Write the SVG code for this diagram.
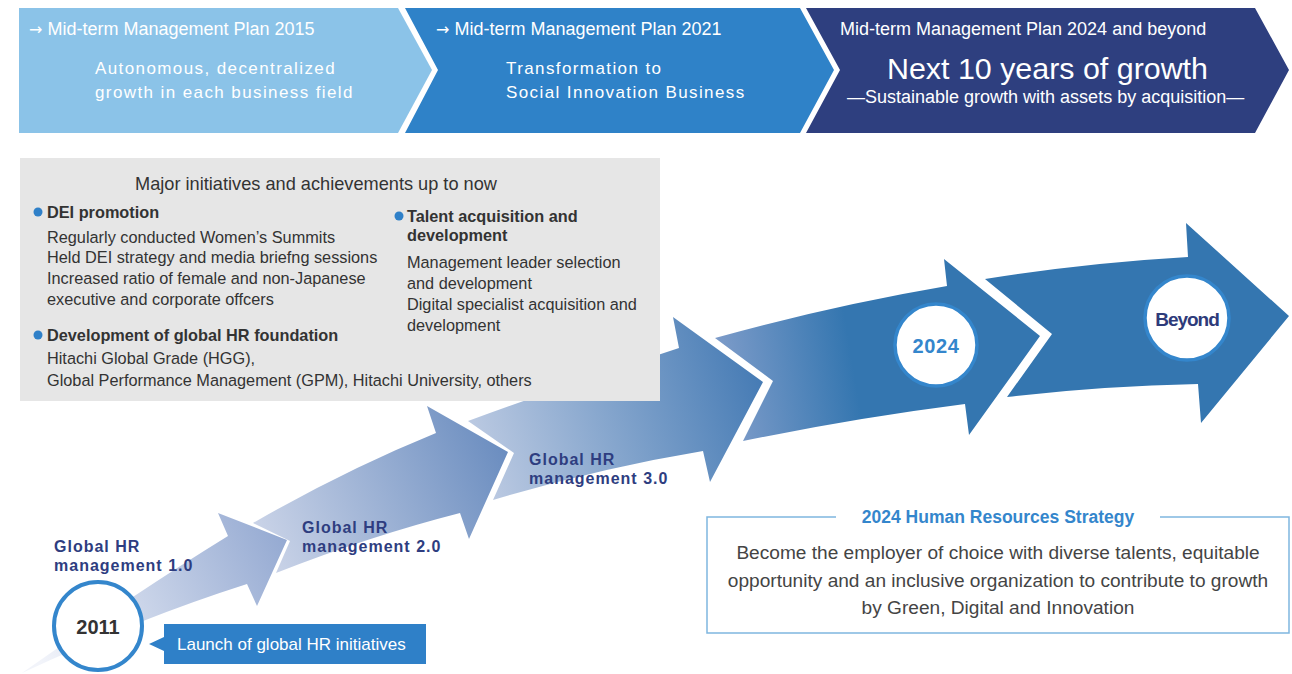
<svg xmlns="http://www.w3.org/2000/svg" width="1292" height="674" viewBox="0 0 1292 674">
<defs>
<style>
text{font-family:"Liberation Sans",Arial,Helvetica,sans-serif}
.w{fill:#ffffff}
.hd{font-size:18px}
.ar{font-family:"DejaVu Sans",sans-serif;font-size:16px}
.sub{font-size:17px;letter-spacing:1.4px}
.body{font-size:16.3px;fill:#333333}
.bh{font-size:16.3px;font-weight:bold;fill:#333333}
.lab{font-size:16px;font-weight:bold;fill:#2e3d80;letter-spacing:1px}
.bul{fill:#2f80c8}
.ring{fill:#ffffff;stroke:#3486cc}
.st{font-size:19.1px;fill:#444444}
</style>
<linearGradient id="g1" gradientUnits="userSpaceOnUse" x1="40" y1="660" x2="285" y2="540">
<stop offset="0" stop-color="#f2f4fa"/><stop offset="1" stop-color="#95aad2"/>
</linearGradient>
<linearGradient id="g2" gradientUnits="userSpaceOnUse" x1="265" y1="560" x2="505" y2="455">
<stop offset="0" stop-color="#cbd4e8"/><stop offset="1" stop-color="#6c8ec0"/>
</linearGradient>
<linearGradient id="g3" gradientUnits="userSpaceOnUse" x1="480" y1="470" x2="760" y2="385">
<stop offset="0" stop-color="#bccae2"/><stop offset="1" stop-color="#477cb5"/>
</linearGradient>
<linearGradient id="g4" gradientUnits="userSpaceOnUse" x1="720" y1="400" x2="900" y2="370">
<stop offset="0" stop-color="#809dca"/><stop offset="0.75" stop-color="#3476b0"/><stop offset="1" stop-color="#3476b0"/>
</linearGradient>
</defs>

<g id="plan-2015">
<path d="M19,8 L398,8 L432,70 L398,133 L19,133 Z" fill="#8bc3e8"/>
<text class="w hd" x="29" y="35"><tspan class="ar">→</tspan> Mid-term Management Plan 2015</text>
<text class="w sub" x="95" y="74">Autonomous, decentralized</text>
<text class="w sub" x="95" y="98">growth in each business field</text>
</g>
<g id="plan-2021">
<path d="M405,8 L800,8 L834,70 L800,133 L405,133 L438,70 Z" fill="#2f82c8"/>
<text class="w hd" x="436" y="35"><tspan class="ar">→</tspan> Mid-term Management Plan 2021</text>
<text class="w sub" x="506" y="74">Transformation to</text>
<text class="w sub" x="506" y="98">Social Innovation Business</text>
</g>
<g id="plan-2024">
<path d="M806,8 L1255,8 L1289,70 L1255,133 L806,133 L840,70 Z" fill="#2e3f7f"/>
<text class="w hd" x="840" y="35">Mid-term Management Plan 2024 and beyond</text>
<text class="w" x="887" y="79" font-size="30.4">Next 10 years of growth</text>
<text class="w hd" x="847" y="103">—Sustainable growth with assets by acquisition—</text>
</g>

<g id="connectors">
<path id="arrow-1" d="M22,673 Q137,592 228,536 L218,513 L287,540 L257,606 L247,584 Q140,618 22,673 Z" fill="url(#g1)"/>
<path id="arrow-2" d="M253,523 Q345,470 436,433 L427,406 L508,452 L469,539 L460,513 Q370,536 276,573 L290,541 Z" fill="url(#g2)"/>
<path id="arrow-3" d="M468,421 Q575,382 679,348 L673,317 L763,382 L710,482 L703,451 Q600,468 493,500 L514,453 Z" fill="url(#g3)"/>
<path id="arrow-4" d="M715,338 Q830,306 947,286 L944,259 L1040,336 L969,435 L965,404 Q855,418 743,441 L773,381 Z" fill="url(#g4)"/>
<path id="arrow-5" d="M985,279 Q1085,263 1188,257 L1186,223 L1289,316 L1201,423 L1198,384 Q1100,386 1007,397 L1052,334 Z" fill="#3476b0"/>
</g>

<g id="achievements">
<rect x="20" y="158" width="640" height="243" fill="#e6e6e6"/>
<text x="316" y="190" text-anchor="middle" font-size="18.2" fill="#333333">Major initiatives and achievements up to now</text>
<circle class="bul" cx="38" cy="212" r="4.5"/>
<text class="bh" x="47" y="218">DEI promotion</text>
<text class="body" x="47" y="243">Regularly conducted Women’s Summits</text>
<text class="body" x="47" y="263">Held DEI strategy and media briefng sessions</text>
<text class="body" x="47" y="284">Increased ratio of female and non-Japanese</text>
<text class="body" x="47" y="305">executive and corporate offcers</text>
<circle class="bul" cx="38" cy="335" r="4.5"/>
<text class="bh" x="47" y="341">Development of global HR foundation</text>
<text class="body" x="47" y="364">Hitachi Global Grade (HGG),</text>
<text class="body" x="47" y="386">Global Performance Management (GPM), Hitachi University, others</text>
<circle class="bul" cx="399" cy="216" r="4.5"/>
<text class="bh" x="407" y="222">Talent acquisition and</text>
<text class="bh" x="407" y="241">development</text>
<text class="body" x="407" y="268">Management leader selection</text>
<text class="body" x="407" y="289">and development</text>
<text class="body" x="407" y="310">Digital specialist acquisition and</text>
<text class="body" x="407" y="331">development</text>
</g>

<g id="label-1">
<text class="lab" x="54" y="552">Global HR</text>
<text class="lab" x="54" y="571">management 1.0</text>
</g>
<g id="label-2">
<text class="lab" x="302" y="533">Global HR</text>
<text class="lab" x="302" y="552">management 2.0</text>
</g>
<g id="label-3">
<text class="lab" x="529" y="465">Global HR</text>
<text class="lab" x="529" y="484">management 3.0</text>
</g>

<g id="year-2011">
<circle class="ring" cx="98" cy="626" r="44" stroke-width="4"/>
<text x="98" y="634" text-anchor="middle" font-size="20" font-weight="bold" fill="#333333">2011</text>
</g>
<g id="launch-callout">
<path d="M149,644 L164,637 L164,651 Z" fill="#2f80c8"/>
<rect x="164" y="624" width="262" height="40" fill="#2f80c8"/>
<text class="w" x="177" y="650" font-size="17">Launch of global HR initiatives</text>
</g>
<g id="year-2024">
<circle class="ring" cx="936" cy="345" r="41" stroke-width="3.5"/>
<text x="936" y="353" text-anchor="middle" font-size="20" font-weight="bold" fill="#3486cc" letter-spacing="0.6">2024</text>
</g>
<g id="beyond">
<circle class="ring" cx="1187" cy="318" r="42" stroke-width="3.5"/>
<text x="1187" y="326" text-anchor="middle" font-size="19" font-weight="bold" fill="#2e3b7a" letter-spacing="-1">Beyond</text>
</g>

<g id="hr-strategy">
<path d="M836,517 L707,517 L707,633 L1289,633 L1289,517 L1160,517" fill="none" stroke="#7fb6e0" stroke-width="1.5"/>
<text x="998" y="523" text-anchor="middle" font-size="17.5" font-weight="bold" fill="#3486cc">2024 Human Resources Strategy</text>
<text class="st" x="998" y="559" text-anchor="middle">Become the employer of choice with diverse talents, equitable</text>
<text class="st" x="998" y="587" text-anchor="middle">opportunity and an inclusive organization to contribute to growth</text>
<text class="st" x="998" y="614" text-anchor="middle">by Green, Digital and Innovation</text>
</g>
</svg>
